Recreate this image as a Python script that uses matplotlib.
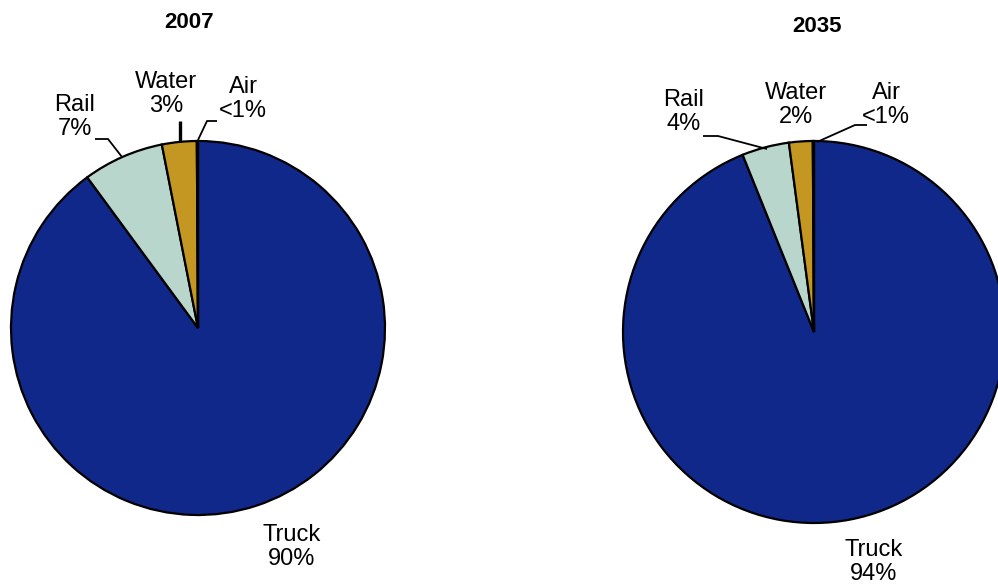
import matplotlib as mpl
mpl.use('Agg')
import matplotlib.pyplot as plt

# ---------------------------------------------------------
# freight mode shares
modes = ['Truck', 'Rail', 'Water', 'Air']
share_2007 = [90, 7, 3, 0.1]
share_2035 = [94, 4, 2, 0.1]
pct_2007 = ['90%', '7%', '3%', '<1%']
pct_2035 = ['94%', '4%', '2%', '<1%']
years = ['2007', '2035']

colors = ['#10288a', '#b8d6cb', '#c49722', '#c49722']

W, H = 998, 586
fnt = ['Liberation Sans Narrow', 'Liberation Sans', 'DejaVu Sans']


def P(x, y):
    # pixel-ish coords with y measured from the top
    return (x, H - y)


fig = plt.figure(figsize=(W/100., H/100.), dpi=100)
ax = fig.add_axes([0, 0, 1, 1])
ax.set_aspect('equal')

# pie geometry: center, radius
pies = [dict(c=(198, 328), r=187, vals=share_2007, pct=pct_2007),
        dict(c=(814, 332), r=191, vals=share_2035, pct=pct_2035)]

for p in pies:
    ax.pie(p['vals'], colors=colors, startangle=90, counterclock=False,
           center=P(*p['c']), radius=p['r'], frame=True,
           wedgeprops=dict(edgecolor='black', linewidth=1.6))

ax.set_xlim(0, W)
ax.set_ylim(0, H)
ax.axis('off')

# titles
ax.text(*P(189, 22), years[0], ha='center', va='center', fontsize=16, fontweight='bold', family=['Liberation Sans', 'DejaVu Sans'])
ax.text(*P(817, 26), years[1], ha='center', va='center', fontsize=16, fontweight='bold', family=['Liberation Sans', 'DejaVu Sans'])

# label positions (left pie / right pie)
lab_pos = [
    {'Truck': (292, 547), 'Rail': (75, 117), 'Water': (166, 94), 'Air': (243, 99)},
    {'Truck': (874, 562), 'Rail': (684, 112), 'Water': (796, 105), 'Air': (886, 105)},
]
for p, pos in zip(pies, lab_pos):
    for m, pc in zip(modes, p['pct']):
        ax.text(*P(*pos[m]), m + '\n' + pc, ha='center', va='center', fontsize=17,
                family=fnt, linespacing=1.15)

# leader lines
leaders = [
    [(95, 139), (108, 139), (122, 157)],
    [(180, 121), (180, 142)],
    [(217, 121), (207, 121), (198, 140)],
    [(703, 136), (718, 136), (767, 149)],
    [(867, 125), (855, 125), (817, 142)],
]
for i, pts in enumerate(leaders):
    xs = [P(*q)[0] for q in pts]
    ys = [P(*q)[1] for q in pts]
    lw = 2.4 if i == 1 else 1.3
    ax.plot(xs, ys, color='black', lw=lw, solid_capstyle='butt')

plt.savefig('out.png', dpi=100)
